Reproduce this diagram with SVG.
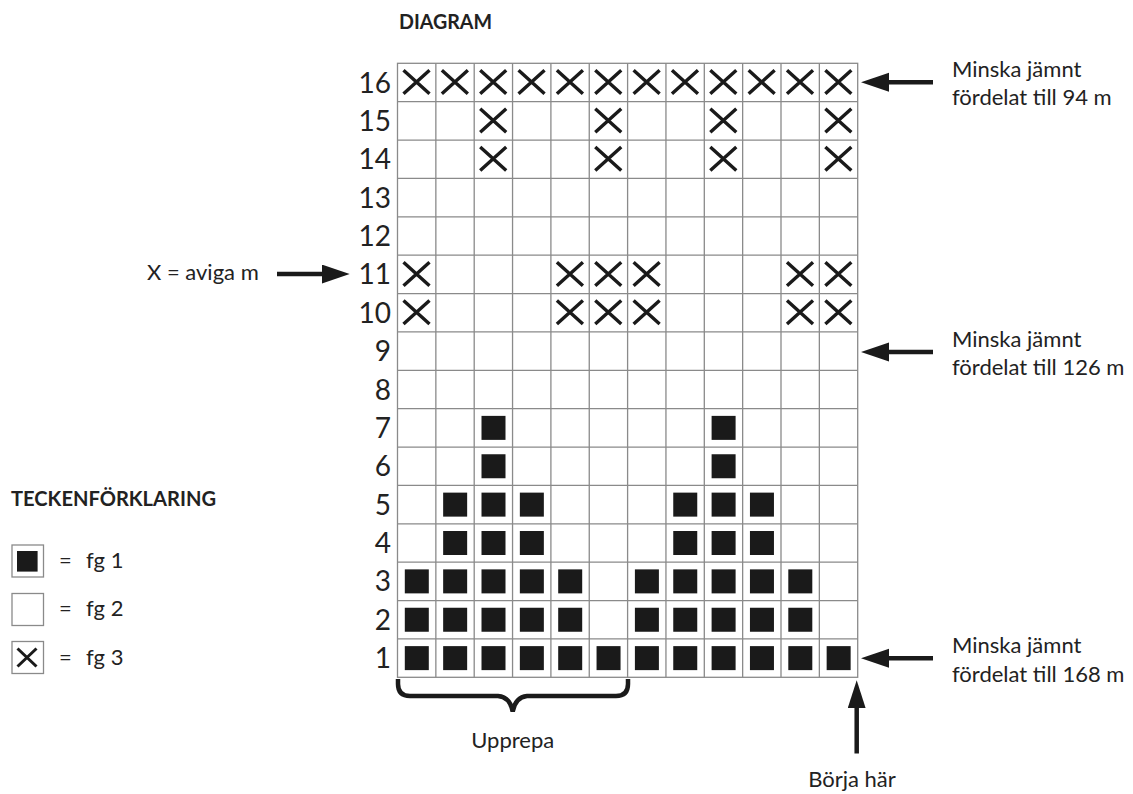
<svg xmlns="http://www.w3.org/2000/svg" xmlns:xlink="http://www.w3.org/1999/xlink" width="1133" height="794" viewBox="0 0 1133 794">
<style>
text{font-family:Lato,"Open Sans","DejaVu Sans",sans-serif;fill:#222}
.t{font-size:22px}
.n{font-size:28px;text-anchor:end}
.h{font-size:21px;font-weight:bold}
.g{fill:none;stroke:#8a8a8a;stroke-width:1.3}
.conn{stroke:#1a1a1a;stroke-width:4.5;fill:none}
</style>
<defs>
<rect id="sq" x="7.3" y="7.2" width="24" height="24" fill="#1a1a1a"/>
<path id="xx" d="M6,7 L32,30.5 M32,7 L6,30.5" stroke="#1a1a1a" stroke-width="3.4" fill="none"/>
<marker id="ah" markerUnits="userSpaceOnUse" markerWidth="30" markerHeight="20" refX="2" refY="9.5" orient="auto" viewBox="0 0 30 20">
<path d="M0,0 L28,9.5 L0,19 z" fill="#1a1a1a"/>
</marker>
<marker id="ahv" markerUnits="userSpaceOnUse" markerWidth="30" markerHeight="20" refX="2" refY="9" orient="auto" viewBox="0 0 30 20">
<path d="M0,0 L28,9 L0,18 z" fill="#1a1a1a"/>
</marker>
</defs>
<rect width="1133" height="794" fill="#fff"/>

<g id="title"><text class="h" x="399" y="28.5" textLength="93" lengthAdjust="spacingAndGlyphs">DIAGRAM</text></g>

<g id="grid">
<rect class="g" x="397.5" y="63.3" width="460.2" height="614"/>
<path class="g" d="M435.85,63.3V677.3M474.2,63.3V677.3M512.55,63.3V677.3M550.9,63.3V677.3M589.25,63.3V677.3M627.6,63.3V677.3M665.95,63.3V677.3M704.3,63.3V677.3M742.65,63.3V677.3M781,63.3V677.3M819.35,63.3V677.3
M397.5,101.675H857.7M397.5,140.05H857.7M397.5,178.425H857.7M397.5,216.8H857.7M397.5,255.175H857.7M397.5,293.55H857.7M397.5,331.925H857.7M397.5,370.3H857.7M397.5,408.675H857.7M397.5,447.05H857.7M397.5,485.425H857.7M397.5,523.8H857.7M397.5,562.175H857.7M397.5,600.55H857.7M397.5,638.925H857.7"/>
</g>

<g id="row-numbers">
<text class="n" x="391" y="92.5">16</text>
<text class="n" x="391" y="130.9">15</text>
<text class="n" x="391" y="169.25">14</text>
<text class="n" x="391" y="207.6">13</text>
<text class="n" x="391" y="246">12</text>
<text class="n" x="391" y="284.4">11</text>
<text class="n" x="391" y="322.75">10</text>
<text class="n" x="391" y="361.1">9</text>
<text class="n" x="391" y="399.5">8</text>
<text class="n" x="391" y="437.9">7</text>
<text class="n" x="391" y="476.25">6</text>
<text class="n" x="391" y="514.6">5</text>
<text class="n" x="391" y="553">4</text>
<text class="n" x="391" y="591.4">3</text>
<text class="n" x="391" y="629.75">2</text>
<text class="n" x="391" y="668.1">1</text>
</g>

<g id="cells-x">
<!-- row 16 -->
<use xlink:href="#xx" href="#xx" x="397.5" y="63.3"/>
<use xlink:href="#xx" href="#xx" x="435.85" y="63.3"/>
<use xlink:href="#xx" href="#xx" x="474.2" y="63.3"/>
<use xlink:href="#xx" href="#xx" x="512.55" y="63.3"/>
<use xlink:href="#xx" href="#xx" x="550.9" y="63.3"/>
<use xlink:href="#xx" href="#xx" x="589.25" y="63.3"/>
<use xlink:href="#xx" href="#xx" x="627.6" y="63.3"/>
<use xlink:href="#xx" href="#xx" x="665.95" y="63.3"/>
<use xlink:href="#xx" href="#xx" x="704.3" y="63.3"/>
<use xlink:href="#xx" href="#xx" x="742.65" y="63.3"/>
<use xlink:href="#xx" href="#xx" x="781" y="63.3"/>
<use xlink:href="#xx" href="#xx" x="819.35" y="63.3"/>
<!-- row 15 -->
<use xlink:href="#xx" href="#xx" x="474.2" y="101.675"/>
<use xlink:href="#xx" href="#xx" x="589.25" y="101.675"/>
<use xlink:href="#xx" href="#xx" x="704.3" y="101.675"/>
<use xlink:href="#xx" href="#xx" x="819.35" y="101.675"/>
<!-- row 14 -->
<use xlink:href="#xx" href="#xx" x="474.2" y="140.05"/>
<use xlink:href="#xx" href="#xx" x="589.25" y="140.05"/>
<use xlink:href="#xx" href="#xx" x="704.3" y="140.05"/>
<use xlink:href="#xx" href="#xx" x="819.35" y="140.05"/>
<!-- row 11 -->
<use xlink:href="#xx" href="#xx" x="397.5" y="255.175"/>
<use xlink:href="#xx" href="#xx" x="550.9" y="255.175"/>
<use xlink:href="#xx" href="#xx" x="589.25" y="255.175"/>
<use xlink:href="#xx" href="#xx" x="627.6" y="255.175"/>
<use xlink:href="#xx" href="#xx" x="781" y="255.175"/>
<use xlink:href="#xx" href="#xx" x="819.35" y="255.175"/>
<!-- row 10 -->
<use xlink:href="#xx" href="#xx" x="397.5" y="293.55"/>
<use xlink:href="#xx" href="#xx" x="550.9" y="293.55"/>
<use xlink:href="#xx" href="#xx" x="589.25" y="293.55"/>
<use xlink:href="#xx" href="#xx" x="627.6" y="293.55"/>
<use xlink:href="#xx" href="#xx" x="781" y="293.55"/>
<use xlink:href="#xx" href="#xx" x="819.35" y="293.55"/>
</g>

<g id="cells-black">
<!-- row 7 -->
<use xlink:href="#sq" href="#sq" x="474.2" y="408.675"/>
<use xlink:href="#sq" href="#sq" x="704.3" y="408.675"/>
<!-- row 6 -->
<use xlink:href="#sq" href="#sq" x="474.2" y="447.05"/>
<use xlink:href="#sq" href="#sq" x="704.3" y="447.05"/>
<!-- row 5 -->
<use xlink:href="#sq" href="#sq" x="435.85" y="485.425"/>
<use xlink:href="#sq" href="#sq" x="474.2" y="485.425"/>
<use xlink:href="#sq" href="#sq" x="512.55" y="485.425"/>
<use xlink:href="#sq" href="#sq" x="665.95" y="485.425"/>
<use xlink:href="#sq" href="#sq" x="704.3" y="485.425"/>
<use xlink:href="#sq" href="#sq" x="742.65" y="485.425"/>
<!-- row 4 -->
<use xlink:href="#sq" href="#sq" x="435.85" y="523.8"/>
<use xlink:href="#sq" href="#sq" x="474.2" y="523.8"/>
<use xlink:href="#sq" href="#sq" x="512.55" y="523.8"/>
<use xlink:href="#sq" href="#sq" x="665.95" y="523.8"/>
<use xlink:href="#sq" href="#sq" x="704.3" y="523.8"/>
<use xlink:href="#sq" href="#sq" x="742.65" y="523.8"/>
<!-- row 3 -->
<use xlink:href="#sq" href="#sq" x="397.5" y="562.175"/>
<use xlink:href="#sq" href="#sq" x="435.85" y="562.175"/>
<use xlink:href="#sq" href="#sq" x="474.2" y="562.175"/>
<use xlink:href="#sq" href="#sq" x="512.55" y="562.175"/>
<use xlink:href="#sq" href="#sq" x="550.9" y="562.175"/>
<use xlink:href="#sq" href="#sq" x="627.6" y="562.175"/>
<use xlink:href="#sq" href="#sq" x="665.95" y="562.175"/>
<use xlink:href="#sq" href="#sq" x="704.3" y="562.175"/>
<use xlink:href="#sq" href="#sq" x="742.65" y="562.175"/>
<use xlink:href="#sq" href="#sq" x="781" y="562.175"/>
<!-- row 2 -->
<use xlink:href="#sq" href="#sq" x="397.5" y="600.55"/>
<use xlink:href="#sq" href="#sq" x="435.85" y="600.55"/>
<use xlink:href="#sq" href="#sq" x="474.2" y="600.55"/>
<use xlink:href="#sq" href="#sq" x="512.55" y="600.55"/>
<use xlink:href="#sq" href="#sq" x="550.9" y="600.55"/>
<use xlink:href="#sq" href="#sq" x="627.6" y="600.55"/>
<use xlink:href="#sq" href="#sq" x="665.95" y="600.55"/>
<use xlink:href="#sq" href="#sq" x="704.3" y="600.55"/>
<use xlink:href="#sq" href="#sq" x="742.65" y="600.55"/>
<use xlink:href="#sq" href="#sq" x="781" y="600.55"/>
<!-- row 1 -->
<use xlink:href="#sq" href="#sq" x="397.5" y="638.925"/>
<use xlink:href="#sq" href="#sq" x="435.85" y="638.925"/>
<use xlink:href="#sq" href="#sq" x="474.2" y="638.925"/>
<use xlink:href="#sq" href="#sq" x="512.55" y="638.925"/>
<use xlink:href="#sq" href="#sq" x="550.9" y="638.925"/>
<use xlink:href="#sq" href="#sq" x="589.25" y="638.925"/>
<use xlink:href="#sq" href="#sq" x="627.6" y="638.925"/>
<use xlink:href="#sq" href="#sq" x="665.95" y="638.925"/>
<use xlink:href="#sq" href="#sq" x="704.3" y="638.925"/>
<use xlink:href="#sq" href="#sq" x="742.65" y="638.925"/>
<use xlink:href="#sq" href="#sq" x="781" y="638.925"/>
<use xlink:href="#sq" href="#sq" x="819.35" y="638.925"/>
</g>

<g id="connectors">
<line class="conn" x1="933" y1="82.3" x2="887" y2="82.3" marker-end="url(#ah)"/>
<line class="conn" x1="933" y1="352" x2="887" y2="352" marker-end="url(#ah)"/>
<line class="conn" x1="933" y1="658.3" x2="887" y2="658.3" marker-end="url(#ah)"/>
<line class="conn" x1="277" y1="274" x2="323.7" y2="274" marker-end="url(#ah)"/>
<line class="conn" x1="856.7" y1="753.5" x2="856.7" y2="706.3" marker-end="url(#ahv)"/>
<path class="conn" stroke-width="4" d="M398,679 L398,684 Q398,696 410,696 L498,696 Q510,697 512.7,711.5 Q515.5,697 527,696 L616,696 Q628,696 628,684 L628,679"/>
</g>

<g id="label-94"><text class="t" x="952" y="77.3">Minska jämnt</text><text class="t" x="952" y="105">fördelat till 94 m</text></g>
<g id="label-126"><text class="t" x="952" y="347">Minska jämnt</text><text class="t" x="952" y="375">fördelat till 126 m</text></g>
<g id="label-168"><text class="t" x="952" y="653.3">Minska jämnt</text><text class="t" x="952" y="681.5">fördelat till 168 m</text></g>
<g id="label-aviga"><text class="t" x="147" y="280">X = aviga m</text></g>
<g id="label-upprepa"><text class="t" x="512.7" y="748" text-anchor="middle">Upprepa</text></g>
<g id="label-borja"><text class="t" x="852" y="787" text-anchor="middle">Börja här</text></g>

<g id="legend">
<text class="h" x="11" y="506" textLength="205" lengthAdjust="spacingAndGlyphs">TECKENFÖRKLARING</text>
<g id="legend-fg1">
<rect class="g" x="12" y="545" width="31.5" height="32"/>
<rect x="17" y="551" width="20.6" height="20.6" fill="#1a1a1a"/>
<text class="t" x="59" y="568.3">=</text><text class="t" x="86" y="568.3">fg 1</text>
</g>
<g id="legend-fg2">
<rect class="g" x="12" y="593.5" width="31.5" height="32"/>
<text class="t" x="59" y="616">=</text><text class="t" x="86" y="616">fg 2</text>
</g>
<g id="legend-fg3">
<rect class="g" x="12" y="641.5" width="31.5" height="32"/>
<path d="M17.5,648.5 L36.5,666.5 M36.5,648.5 L17.5,666.5" stroke="#1a1a1a" stroke-width="3" fill="none"/>
<text class="t" x="59" y="665">=</text><text class="t" x="86" y="665">fg 3</text>
</g>
</g>
</svg>
